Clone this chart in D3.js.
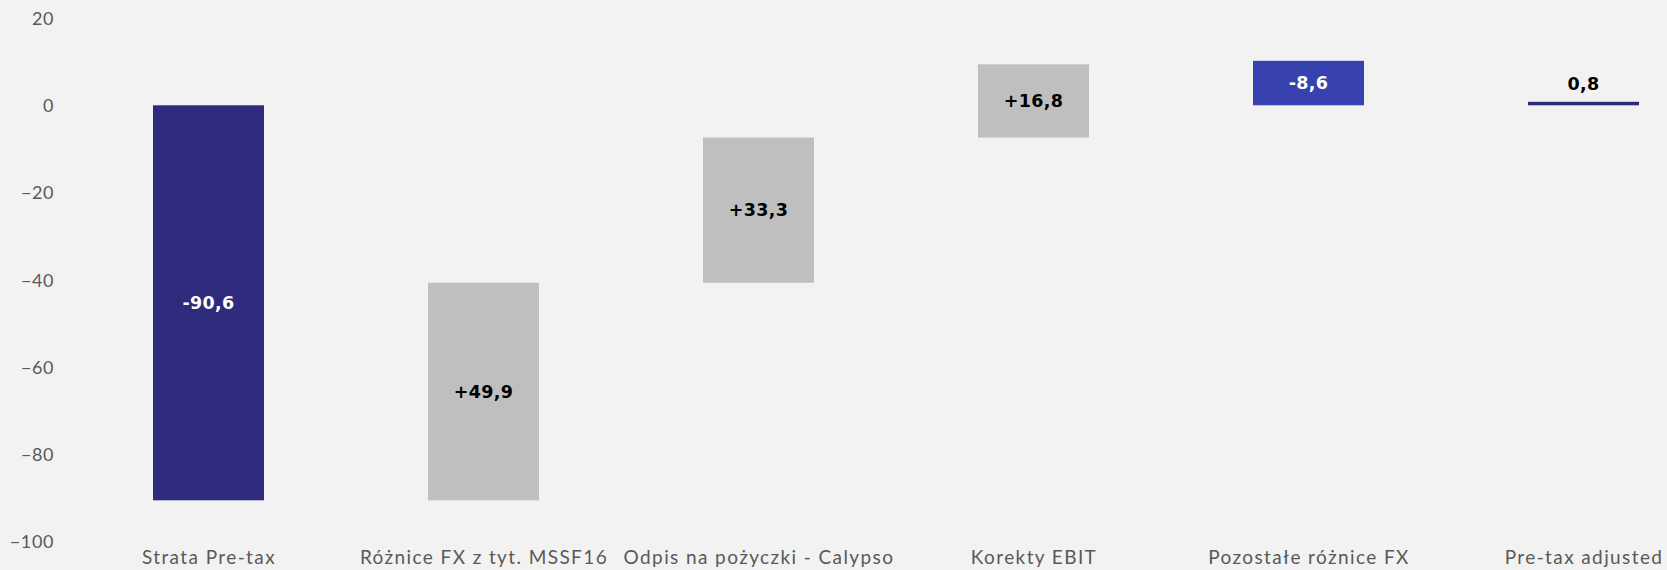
<!DOCTYPE html>
<html>
<head>
<meta charset="utf-8">
<script src="https://cdn.jsdelivr.net/npm/d3@7"></script>
<style>
  html, body { margin: 0; padding: 0; background: #F2F2F2; }
  svg { display: block; }
</style>
</head>
<body>
<svg id="chart" width="1667" height="570"></svg>
<script>
const categories = ["Strata Pre-tax", "Różnice FX z tyt. MSSF16", "Odpis na pożyczki - Calypso", "Korekty EBIT", "Pozostałe różnice FX", "Pre-tax adjusted"];
const barLow  = [-90.6, -90.6, -40.7, -7.4, 0, 0];
const barHigh = [0, -40.7, -7.4, 9.4, 10.2, 0.8];
const valueLabels = ["-90,6", "+49,9", "+33,3", "+16,8", "-8,6", "0,8"];
const barKinds = ["total", "change", "change", "change", "negative", "total"];
const yTicks = [20, 0, -20, -40, -60, -80, -100];

const colors = { total: "#2E2A7C", change: "#BFBFBF", negative: "#3742AE" };
const labelColors = { total: "#FFFFFF", change: "#000000", negative: "#FFFFFF" };

const svg = d3.select("#chart");
const W = 1667, H = 570;
svg.append("rect").attr("width", W).attr("height", H).attr("fill", "#F2F2F2");

const x = d3.scalePoint().domain(categories).range([71, 1721]).padding(0.5);
const y = d3.scaleLinear().domain([-100, 20]).range([541.3, 18.1]);
const barW = 111;

// Y axis
const yAxis = d3.axisLeft(y).tickValues(yTicks).tickSize(0).tickPadding(0).tickFormat(d3.format("d"));
const gy = svg.append("g").attr("transform", "translate(54,0)").call(yAxis);
gy.select(".domain").remove();
gy.selectAll("text")
  .attr("fill", "#595959")
  .style("font-family", "Lato, 'Open Sans', sans-serif")
  .style("font-size", "18px")
  .style("letter-spacing", "0.6px")
  .attr("dy", "0.35em");

// Bars
const data = categories.map((c, i) => ({ c, lo: barLow[i], hi: barHigh[i], lab: valueLabels[i], kind: barKinds[i], i }));

svg.append("g").selectAll("rect").data(data).join("rect")
  .attr("x", d => x(d.c) - barW / 2)
  .attr("width", barW)
  .attr("y", d => y(d.hi))
  .attr("height", d => y(d.lo) - y(d.hi))
  .attr("fill", d => colors[d.kind]);

// Value labels
svg.append("g").selectAll("text").data(data).join("text")
  .attr("x", d => x(d.c))
  .attr("y", d => {
    const h = y(d.lo) - y(d.hi);
    return h < 20 ? y(d.hi) - 18 : (y(d.lo) + y(d.hi)) / 2;
  })
  .attr("dy", "0.35em")
  .attr("text-anchor", "middle")
  .attr("fill", d => (y(d.lo) - y(d.hi)) < 20 ? "#000000" : labelColors[d.kind])
  .style("font-family", "'DejaVu Sans', sans-serif")
  .style("font-weight", "bold")
  .style("font-size", "17.5px")
  .style("letter-spacing", "0.3px")
  .text(d => d.lab);

// X axis (category labels)
const xAxis = d3.axisBottom(x).tickSize(0).tickPadding(0);
const gx = svg.append("g").attr("transform", "translate(0,550)").call(xAxis);
gx.select(".domain").remove();
gx.selectAll("text")
  .attr("fill", "#595959")
  .attr("dy", "0.71em")
  .style("font-family", "Lato, 'Open Sans', sans-serif")
  .style("font-size", "19px")
  .style("letter-spacing", "1.4px");
</script>
</body>
</html>
